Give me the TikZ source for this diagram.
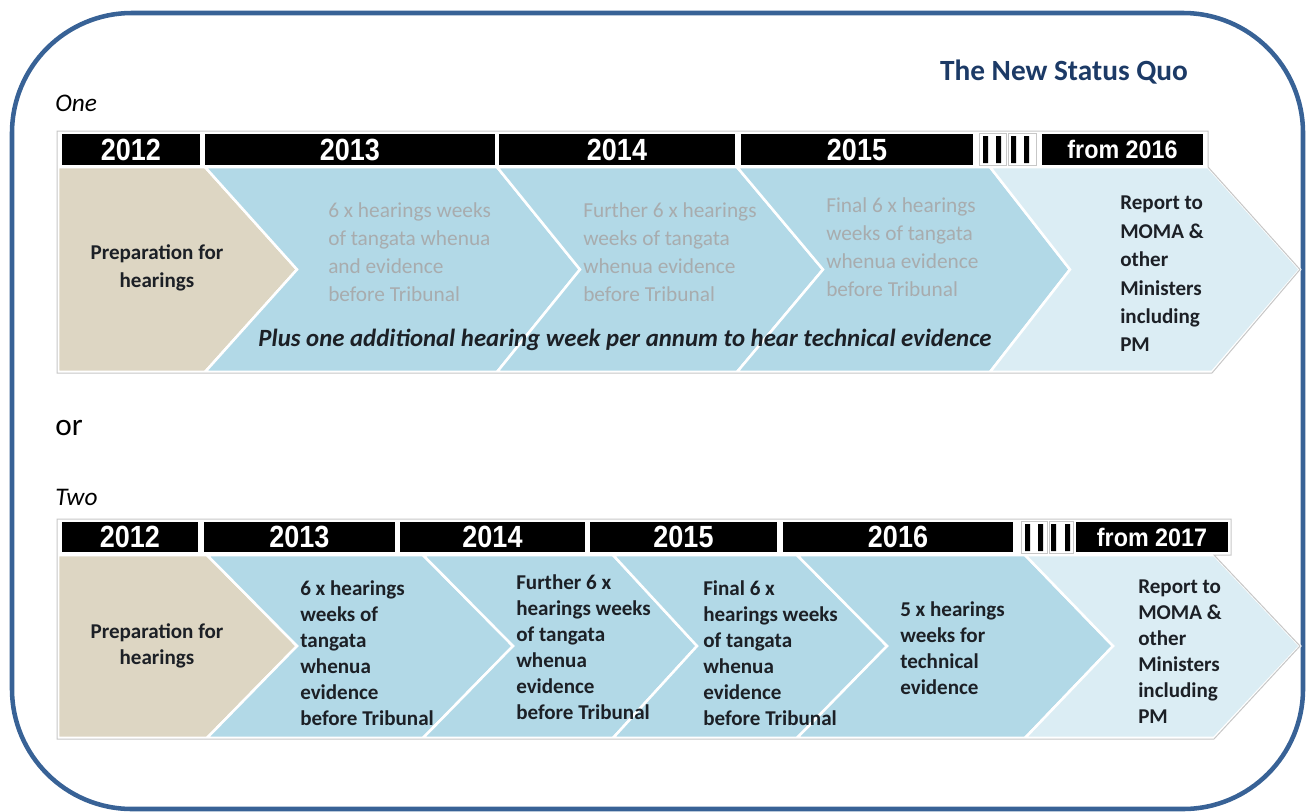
\documentclass[tikz,border=0pt]{standalone}
\usepackage{fontspec}
\setmainfont{Carlito}
\newfontfamily\yearfont{Liberation Sans}
\definecolor{frameblue}{RGB}{56,98,150}
\definecolor{titleblue}{RGB}{28,58,102}
\definecolor{sand}{RGB}{221,214,195}
\definecolor{sky}{RGB}{178,217,231}
\definecolor{skypale}{RGB}{219,237,244}
\definecolor{fade}{RGB}{168,172,174}
\definecolor{ink}{RGB}{28,32,38}
\newcommand\yr[1]{\scalebox{0.88}[1]{#1}}
\newcommand\fromyr[1]{\scalebox{0.92}[1]{#1}}
\begin{document}
\begin{tikzpicture}
[x=0.75pt, y=-0.75pt,
 yearbar/.style={fill=black, text=white, inner sep=0pt, font=\yearfont\bfseries\fontsize{23}{23}\selectfont},
 frombar/.style={yearbar, font=\yearfont\bfseries\fontsize{19}{19}\selectfont},
 tickmark/.style={fill=black},
 tickcell/.style={draw=black!22, line width=0.6pt},
 rim/.style={draw=black!22, line width=0.75pt},
 sandarrow/.style={fill=sand, draw=white, line width=1.9pt},
 skyarrow/.style={fill=sky, draw=white, line width=1.9pt},
 palearrow/.style={fill=skypale, draw=white, line width=1.9pt},
 fadetext/.style={anchor=west, align=left, text=fade, inner sep=0pt, font=\fontsize{16}{21}\selectfont},
 boldtext/.style={anchor=west, align=left, text=ink, inner sep=0pt, font=\bfseries\fontsize{15.8}{19.5}\selectfont},
 optname/.style={anchor=west, inner sep=0pt, font=\itshape\fontsize{19}{19}\selectfont}]

\useasboundingbox (0,0) rectangle (1307,811);
\draw[frameblue, line width=3.4pt, rounded corners=90pt] (12,13) rectangle (1303,809);

\node[text=titleblue, font=\bfseries\fontsize{22}{22}\selectfont] (title) at (1064,72) {The New Status Quo};
\node[optname] (one) at (55,103) {One};
\node[anchor=west, inner sep=0pt, font=\fontsize{23.5}{23.5}\selectfont] (or) at (55,428) {or};
\node[optname] (two) at (55,497) {Two};

\path[sandarrow] (58,167) -- (205,167) -- (297,269.5) -- (205,372) -- (58,372) -- cycle;
\path[skyarrow] (205,167) -- (497,167) -- (580,269.5) -- (497,372) -- (205,372) -- (297,269.5) -- cycle;
\path[skyarrow] (497,167) -- (737,167) -- (823,269.5) -- (737,372) -- (497,372) -- (580,269.5) -- cycle;
\path[skyarrow] (737,167) -- (990,167) -- (1070,269.5) -- (990,372) -- (737,372) -- (823,269.5) -- cycle;
\path[palearrow] (990,167) -- (1208,167) -- (1300,269.5) -- (1212,372) -- (990,372) -- (1070,269.5) -- cycle;
\draw[rim] (57,131) -- (1208,131) -- (1208,167) -- (1300,269.5) -- (1212,373) -- (57,373) -- cycle;

\node[yearbar, minimum width=103.5pt, minimum height=23.25pt] (a12) at (131,149.5) {\yr{2012}};
\node[yearbar, minimum width=217.5pt, minimum height=23.25pt] (a13) at (350,149.5) {\yr{2013}};
\node[yearbar, minimum width=177pt, minimum height=23.25pt] (a14) at (617,149.5) {\yr{2014}};
\node[yearbar, minimum width=174pt, minimum height=23.25pt] (a15) at (857,149.5) {\yr{2015}};
\node[frombar, minimum width=120.75pt, minimum height=23.25pt] (a16) at (1122.5,149.5) {\fromyr{from 2016}};
\draw[tickcell] (979,133) rectangle (1006,165) (1008,133) rectangle (1036,165);
\fill[tickmark] (983,136) rectangle (988,163) (996,136) rectangle (1001,163)
  (1011,136) rectangle (1016,163) (1024,136) rectangle (1029,163);

\node[boldtext, anchor=center, align=center, font=\bfseries\fontsize{15.8}{21}\selectfont] (aprep) at (157,268) {Preparation for\\hearings};
\node[fadetext] (ahear) at (328,252) {6 x hearings weeks\\of tangata whenua\\and evidence\\before Tribunal};
\node[fadetext] (afurther) at (583,252) {Further 6 x hearings\\weeks of tangata\\whenua evidence\\before Tribunal};
\node[fadetext] (afinal) at (826,247) {Final 6 x hearings\\weeks of tangata\\whenua evidence\\before Tribunal};
\node[boldtext, font=\bfseries\fontsize{15.8}{21.3}\selectfont] (areport) at (1120,274) {Report to\\MOMA \&\\other\\Ministers\\including\\PM};
\node[text=ink, inner sep=0pt, font=\bfseries\itshape\fontsize{18.6}{18.6}\selectfont] (aplus) at (625,340) {Plus one additional hearing week per annum to hear technical evidence};

\path[sandarrow] (58,555) -- (207,555) -- (297,646) -- (207,738) -- (58,738) -- cycle;
\path[skyarrow] (207,555) -- (423,555) -- (513,646) -- (423,738) -- (207,738) -- (297,646) -- cycle;
\path[skyarrow] (423,555) -- (613,555) -- (697,646) -- (613,738) -- (423,738) -- (513,646) -- cycle;
\path[skyarrow] (613,555) -- (797,555) -- (887,646) -- (797,738) -- (613,738) -- (697,646) -- cycle;
\path[skyarrow] (797,555) -- (1025,555) -- (1113,646) -- (1025,738) -- (797,738) -- (887,646) -- cycle;
\path[palearrow] (1025,555) -- (1214,555) -- (1300,646) -- (1214,738) -- (1025,738) -- (1113,646) -- cycle;
\draw[rim] (57,519) -- (1231,519) -- (1231,555) -- (1214,555) -- (1300,646) -- (1214,739) -- (57,739) -- cycle;

\node[yearbar, minimum width=102pt, minimum height=22.5pt] (b12) at (130,537) {\yr{2012}};
\node[yearbar, minimum width=143.25pt, minimum height=22.5pt] (b13) at (299.5,537) {\yr{2013}};
\node[yearbar, minimum width=138.75pt, minimum height=22.5pt] (b14) at (492.5,537) {\yr{2014}};
\node[yearbar, minimum width=140.25pt, minimum height=22.5pt] (b15) at (683.5,537) {\yr{2015}};
\node[yearbar, minimum width=172.5pt, minimum height=22.5pt] (b16) at (898,537) {\yr{2016}};
\node[frombar, minimum width=114pt, minimum height=22.5pt] (b17) at (1152,537) {\fromyr{from 2017}};
\draw[tickcell] (1021,521) rectangle (1047,553) (1049,521) rectangle (1073,553);
\fill[tickmark] (1025,524) rectangle (1030,551) (1038,524) rectangle (1043,551)
  (1051,524) rectangle (1056,551) (1065,524) rectangle (1070,551);

\node[boldtext, anchor=center, align=center, font=\bfseries\fontsize{15.8}{19}\selectfont] (bprep) at (157,646) {Preparation for\\hearings};
\node[boldtext] (bhear) at (300,653) {6 x hearings\\weeks of\\tangata\\whenua\\evidence\\before Tribunal};
\node[boldtext] (bfurther) at (516,647) {Further 6 x\\hearings weeks\\of tangata\\whenua\\evidence\\before Tribunal};
\node[boldtext] (bfinal) at (703,653.5) {Final 6 x\\hearings weeks\\of tangata\\whenua\\evidence\\before Tribunal};
\node[boldtext] (btech) at (900,648.5) {5 x hearings\\weeks for\\technical\\evidence};
\node[boldtext] (breport) at (1138,652) {Report to\\MOMA \&\\other\\Ministers\\including\\PM};

\end{tikzpicture}
\end{document}
